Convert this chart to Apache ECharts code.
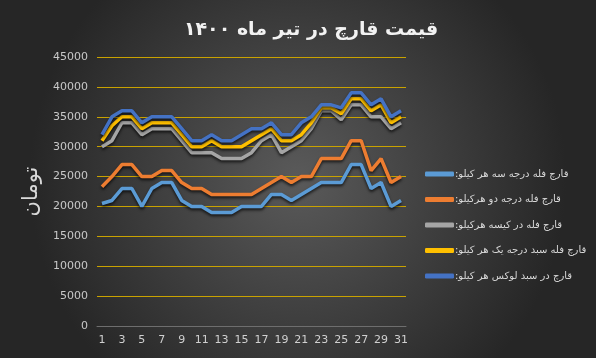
<!DOCTYPE html>
<html>
<head>
<meta charset="utf-8">
<script src="https://cdn.jsdelivr.net/npm/echarts@6/dist/echarts.min.js"></script>
<style>
html,body{margin:0;padding:0;background:#2a2a2a;}
#c{width:596px;height:358px;}
</style>
</head>
<body>
<div id="c"></div>
<script>
const days = Array.from({length:31},(_,i)=>String(i+1));
const seriesNames = [
  'قارچ فله درجه سه هر کیلو:',
  'قارچ فله درجه دو هرکیلو:',
  'قارچ فله در کیسه هرکیلو:',
  'قارچ فله سبد درجه یک هر کیلو:',
  'قارچ در سبد لوکس هر کیلو:'
];
const grade3 = [20500,21000,23000,23000,20000,23000,24000,24000,21000,20000,20000,19000,19000,19000,20000,20000,20000,22000,22000,21000,22000,23000,24000,24000,24000,27000,27000,23000,24000,20000,21000];
const grade2 = [23300,25000,27000,27000,25000,25000,26000,26000,24000,23000,23000,22000,22000,22000,22000,22000,23000,24000,25000,24000,25000,25000,28000,28000,28000,31000,31000,26000,28000,24000,25000];
const bagged = [30000,31000,34000,34000,32000,33000,33000,33000,31000,29000,29000,29000,28000,28000,28000,29000,31000,32000,29000,30000,31000,33000,36000,36000,34500,37000,37000,35000,35000,33000,34000];
const basket1 = [31000,33500,35000,35000,33000,34000,34000,34000,32000,30000,30000,31000,30000,30000,30000,31000,32000,33000,31000,31000,32000,34000,36500,36500,35500,38000,38000,36000,37000,34000,35000];
const luxe = [32000,35000,36000,36000,34000,35000,35000,35000,33000,31000,31000,32000,31000,31000,32000,33000,33000,34000,32000,32000,34000,35000,37000,37000,36500,39000,39000,37000,38000,35000,36000];
const yTicks = [0,5000,10000,15000,20000,25000,30000,35000,40000,45000];
const colors = ['#5b9bd5','#ed7d31','#a5a5a5','#ffc000','#4472c4'];
const values = [grade3, grade2, bagged, basket1, luxe];

const chart = echarts.init(document.getElementById('c'));
const font = 'DejaVu Sans, Noto Sans, sans-serif';
chart.setOption({
  backgroundColor: {type:'radial', x:0.5, y:0.5, r:0.75,
    colorStops:[{offset:0,color:'#5a5a5a'},{offset:1,color:'#262626'}]},
  animation:false,
  title:{text:'قیمت قارچ در تیر ماه ۱۴۰۰', left:306, top:16, textAlign:'center',
    textStyle:{color:'#f2f2f2', fontSize:19, fontWeight:'bold', fontFamily:font}},
  legend:{orient:'vertical', left:425, top:169, itemGap:15.5, itemWidth:29, itemHeight:5,
    icon:'roundRect', padding:0,
    formatter: n => n + '\u200F',
    textStyle:{color:'#d9d9d9', fontSize:10, fontFamily:font, padding:[0,0,0,-4]},
    data: seriesNames},
  grid:{left:97, right:190, top:57, bottom:32},
  xAxis:{type:'category', data:days, boundaryGap:true,
    axisLine:{show:true, lineStyle:{color:'#6e6e6e', width:1}},
    axisTick:{show:false},
    axisLabel:{color:'#d0d0d0', fontSize:11, interval:1, margin:9, fontFamily:font}},
  yAxis:{type:'value', min:yTicks[0], max:yTicks[yTicks.length-1], interval:5000,
    name:'تومان', nameLocation:'middle', nameGap:42, nameRotate:90,
    nameTextStyle:{color:'#d9d9d9', fontSize:21, fontFamily:font},
    axisLine:{show:false}, axisTick:{show:false},
    axisLabel:{color:'#c8c8c8', fontSize:11, margin:9, fontFamily:font, formatter: v => String(v)},
    splitLine:{lineStyle:{color:'#c9a200', width:1}}},
  series: seriesNames.map((n,i)=>({
    name:n, type:'line', data:values[i], symbol:'none', smooth:false,
    color:colors[i],
    lineStyle:{width:3.5, color:colors[i], shadowColor:'rgba(0,0,0,0.7)', shadowBlur:3, shadowOffsetY:2}
  }))
});
</script>
</body>
</html>
